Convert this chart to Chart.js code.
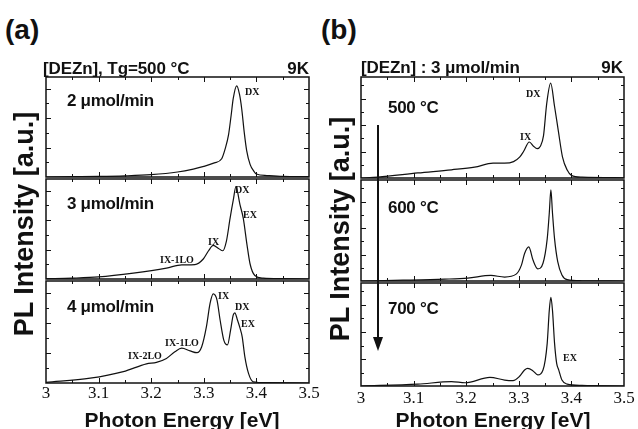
<!DOCTYPE html>
<html>
<head>
<meta charset="utf-8">
<script src="https://cdn.jsdelivr.net/npm/chart.js@4/dist/chart.umd.min.js"></script>
<style>
body { margin: 0; background: #fff; }
#fig { position: relative; width: 638px; height: 429px; overflow: hidden; font-family: "Liberation Sans", Arial, sans-serif; color: #111; }
#fig canvas { position: absolute; }
.t { position: absolute; white-space: nowrap; line-height: 1; transform: translateY(-50%); }
.c { position: absolute; white-space: nowrap; line-height: 1; transform: translate(-50%, -50%); }
.pan { font-weight: bold; font-size: 28px; }
.hdr { font-size: 17px; font-weight: bold; letter-spacing: -0.1px; }
.k { font-weight: bold; font-size: 17px; }
.sub { font-weight: bold; font-size: 17px; letter-spacing: -0.3px; }
.pk { font-family: "Liberation Serif", "Times New Roman", serif; font-weight: bold; font-size: 10px; }
.xl { font-weight: bold; font-size: 21px; }
.yl { font-weight: bold; font-size: 27px; transform: translate(-50%, -50%) rotate(-90deg); }
</style>
</head>
<body>
<div id="fig">
  <canvas id="a1"></canvas><canvas id="a2"></canvas><canvas id="a3"></canvas>
  <canvas id="b1"></canvas><canvas id="b2"></canvas><canvas id="b3"></canvas>

  <div class="t pan" style="left:5px;top:30px">(a)</div>
  <div class="t pan" style="left:321px;top:30px">(b)</div>

  <div class="t hdr" style="left:43px;top:68px">[DEZn], Tg=500 °C</div>
  <div class="t k" style="right:329px;top:68px">9K</div>
  <div class="t hdr" style="left:361px;top:67px">[DEZn] : 3 μmol/min</div>
  <div class="t k" style="right:15px;top:67px">9K</div>

  <div class="t sub" style="left:67px;top:100px">2 μmol/min</div>
  <div class="t sub" style="left:67px;top:203px">3 μmol/min</div>
  <div class="t sub" style="left:67px;top:306px">4 μmol/min</div>
  <div class="t sub" style="left:388px;top:107px">500 °C</div>
  <div class="t sub" style="left:388px;top:207px">600 °C</div>
  <div class="t sub" style="left:388px;top:308px">700 °C</div>

  <div class="t pk" style="left:245px;top:92px">DX</div>
  <div class="t pk" style="left:235px;top:190px">DX</div>
  <div class="t pk" style="left:243px;top:215px">EX</div>
  <div class="t pk" style="left:208px;top:242px">IX</div>
  <div class="t pk" style="left:160px;top:260px">IX-1LO</div>
  <div class="t pk" style="left:218px;top:296px">IX</div>
  <div class="t pk" style="left:235px;top:307px">DX</div>
  <div class="t pk" style="left:241px;top:324px">EX</div>
  <div class="t pk" style="left:165px;top:343px">IX-1LO</div>
  <div class="t pk" style="left:128px;top:356px">IX-2LO</div>
  <div class="t pk" style="left:526px;top:94px">DX</div>
  <div class="t pk" style="left:520px;top:137px">IX</div>
  <div class="t pk" style="left:563px;top:358px">EX</div>

  <div class="c yl" style="left:24px;top:224px">PL Intensity [a.u.]</div>
  <div class="c yl" style="left:340px;top:229px">PL Intensity [a.u.]</div>
  <div class="c xl" style="left:182px;top:419px">Photon Energy [eV]</div>
  <div class="c xl" style="left:493px;top:419px">Photon Energy [eV]</div>

  <svg width="638" height="429" style="position:absolute;left:0;top:0">
    <line x1="378" y1="125" x2="378" y2="338" stroke="#111" stroke-width="2"/>
    <polygon points="373,337 383,337 378,351" fill="#111"/>
  </svg>
</div>

<script>
// (a) growth at Tg=500 C, DEZn flow 2/3/4 umol/min
var energyA1 = [3.00, 3.05, 3.10, 3.15, 3.20, 3.25, 3.28, 3.30, 3.32, 3.334, 3.341, 3.347, 3.352, 3.356, 3.3625, 3.368, 3.372, 3.377, 3.3815, 3.388, 3.395, 3.40, 3.42, 3.45, 3.50];
var intensA1 = [0.0, 0.01, 0.02, 0.04, 0.08, 0.17, 0.27, 0.36, 0.48, 0.62, 0.98, 1.43, 2.1, 2.67, 3.1, 2.8, 2.33, 1.5, 0.9, 0.43, 0.2, 0.1, 0.05, 0.02, 0.01];

var energyA2 = [3.00, 3.05, 3.10, 3.166, 3.229, 3.258, 3.283, 3.299, 3.309, 3.318, 3.328, 3.336, 3.343, 3.35, 3.356, 3.361, 3.369, 3.375, 3.382, 3.388, 3.397, 3.413, 3.45, 3.50];
var intensA2 = [0.01, 0.03, 0.07, 0.2, 0.37, 0.48, 0.49, 0.68, 0.96, 1.14, 1.04, 0.96, 1.29, 2.07, 2.68, 3.13, 2.51, 2.07, 1.18, 0.51, 0.12, 0.03, 0.01, 0.0];

var energyA3 = [3.00, 3.084, 3.147, 3.191, 3.21, 3.229, 3.245, 3.258, 3.274, 3.287, 3.296, 3.305, 3.312, 3.318, 3.325, 3.331, 3.338, 3.345, 3.351, 3.356, 3.359, 3.364, 3.369, 3.373, 3.378, 3.385, 3.394, 3.42, 3.50];
var intensA3 = [0.02, 0.16, 0.38, 0.64, 0.69, 0.82, 1.04, 1.16, 1.07, 1.01, 1.21, 1.88, 2.66, 2.97, 2.77, 2.1, 1.43, 1.27, 1.77, 2.27, 2.34, 2.1, 1.82, 1.54, 0.88, 0.32, 0.04, 0.01, 0.0];

// (b) DEZn 3 umol/min, Tg = 500/600/700 C
var energyB1 = [3.0, 3.032, 3.108, 3.172, 3.216, 3.251, 3.273, 3.29, 3.302, 3.309, 3.32, 3.328, 3.335, 3.341, 3.347, 3.353, 3.3606, 3.368, 3.375, 3.383, 3.392, 3.40, 3.42, 3.5];
var intensB1 = [0.0, 0.03, 0.19, 0.31, 0.41, 0.56, 0.56, 0.62, 0.8, 1.0, 1.36, 1.2, 1.11, 1.2, 1.6, 2.8, 3.58, 2.7, 1.8, 0.8, 0.3, 0.1, 0.03, 0.01];

var energyB2 = [3.0, 3.08, 3.159, 3.203, 3.247, 3.273, 3.295, 3.305, 3.311, 3.319, 3.327, 3.336, 3.346, 3.354, 3.358, 3.361, 3.364, 3.368, 3.374, 3.382, 3.392, 3.42, 3.5];
var intensB2 = [0.0, 0.03, 0.07, 0.11, 0.21, 0.15, 0.26, 0.6, 1.04, 1.29, 0.79, 0.46, 0.67, 1.59, 2.58, 3.44, 2.58, 1.59, 0.73, 0.23, 0.05, 0.01, 0.0];

var energyB3 = [3.0, 3.108, 3.172, 3.198, 3.245, 3.273, 3.289, 3.301, 3.311, 3.317, 3.327, 3.336, 3.346, 3.354, 3.358, 3.361, 3.364, 3.368, 3.372, 3.376, 3.382, 3.392, 3.42, 3.5];
var intensB3 = [0.0, 0.07, 0.16, 0.12, 0.32, 0.22, 0.2, 0.35, 0.59, 0.65, 0.56, 0.41, 0.59, 1.58, 2.81, 3.28, 2.81, 1.58, 0.84, 0.59, 0.22, 0.07, 0.02, 0.0];

var xTicks = [3, 3.1, 3.2, 3.3, 3.4, 3.5];

// frame + inward ticks on all four sides
var framePlugin = {
  id: 'frame',
  afterDatasetsDraw: function(chart) {
    var a = chart.chartArea, xs = chart.scales.x, ys = chart.scales.y, c = chart.ctx;
    c.save();
    c.strokeStyle = '#111';
    c.lineWidth = 1.5;
    c.strokeRect(a.left, a.top, a.right - a.left, a.bottom - a.top);
    c.lineWidth = 1;
    c.beginPath();
    for (var i = 1; i < 10; i++) {
      var px = Math.round(xs.getPixelForValue(3 + i * 0.05)) + 0.5;
      var len = i % 2 ? 3 : 5;
      c.moveTo(px, a.top); c.lineTo(px, a.top + len);
      c.moveTo(px, a.bottom); c.lineTo(px, a.bottom - len);
    }
    for (var k = 1; k * 0.5 < ys.max; k++) {
      var py = Math.round(ys.getPixelForValue(k * 0.5)) + 0.5;
      var l2 = k % 2 ? 3 : 5;
      c.moveTo(a.left, py); c.lineTo(a.left + l2, py);
      c.moveTo(a.right, py); c.lineTo(a.right - l2, py);
    }
    c.stroke();
    c.restore();
  }
};

function makePanel(id, box, energy, intens, yMax, showX, labelPad) {
  var cv = document.getElementById(id);
  var padX = 16, padT = 2, padB = showX ? 26 : 2;
  cv.width = box.width + 2 * padX;
  cv.height = box.height + padT + padB;
  cv.style.width = cv.width + 'px';
  cv.style.height = cv.height + 'px';
  cv.style.left = (box.left - padX) + 'px';
  cv.style.top = (box.top - padT) + 'px';

  new Chart(cv.getContext('2d'), {
    type: 'line',
    data: {
      datasets: [{
        data: energy.map(function(e, i) { return { x: e, y: intens[i] }; }),
        borderColor: '#111', borderWidth: 1.2, pointRadius: 0,
        cubicInterpolationMode: 'monotone', fill: false
      }]
    },
    options: {
      responsive: false, animation: false, events: [],
      layout: { padding: { left: padX, right: padX, top: padT, bottom: showX ? 0 : padB } },
      plugins: { legend: { display: false }, tooltip: { enabled: false } },
      scales: {
        x: {
          type: 'linear', min: 3, max: 3.5, display: showX,
          grid: { display: false, drawTicks: false }, border: { display: false },
          afterBuildTicks: function(s) { s.ticks = xTicks.map(function(v) { return { value: v }; }); },
          afterFit: function(s) { s.height = padB; },
          ticks: {
            padding: labelPad, color: '#111', maxRotation: 0, autoSkip: false,
            font: { family: 'Liberation Serif', size: 17 },
            callback: function(v) { return String(+v.toFixed(1)); }
          }
        },
        y: { type: 'linear', min: 0, max: yMax, display: false }
      }
    },
    plugins: [framePlugin]
  });
}

var colA = { left: 46, width: 263 }, colB = { left: 361, width: 263 };
var yMaxA = 102 / 30, yMaxB = 103 / 27;

makePanel('a1', { left: colA.left, width: colA.width, top: 77, height: 102 }, energyA1, intensA1, yMaxA, false, 0);
makePanel('a2', { left: colA.left, width: colA.width, top: 179, height: 102 }, energyA2, intensA2, yMaxA, false, 0);
makePanel('a3', { left: colA.left, width: colA.width, top: 281, height: 102 }, energyA3, intensA3, yMaxA, true, 0);
makePanel('b1', { left: colB.left, width: colB.width, top: 77, height: 103 }, energyB1, intensB1, yMaxB, false, 0);
makePanel('b2', { left: colB.left, width: colB.width, top: 180, height: 103 }, energyB2, intensB2, yMaxB, false, 0);
makePanel('b3', { left: colB.left, width: colB.width, top: 283, height: 103 }, energyB3, intensB3, yMaxB, true, 2);
</script>
</body>
</html>
